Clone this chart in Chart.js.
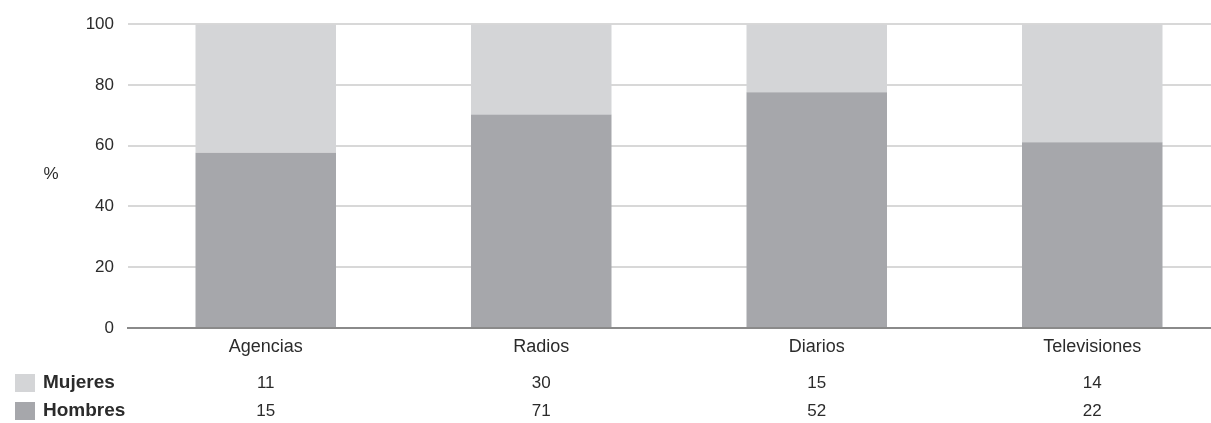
<!DOCTYPE html>
<html>
<head>
<meta charset="utf-8">
<script src="https://cdn.jsdelivr.net/npm/chart.js@4.4.1/dist/chart.umd.min.js"></script>
<style>
  html, body { margin: 0; padding: 0; background: #fff; overflow: hidden; }
  #wrap { width: 1211px; height: 423px; overflow: hidden; position: relative; }
  #box { width: 1230px; height: 423px; position: absolute; left: 0; top: 0; }
</style>
</head>
<body>
<div id="wrap"><div id="box"><canvas id="chart"></canvas></div></div>
<script>
// Data
const categories = ['Agencias', 'Radios', 'Diarios', 'Televisiones'];
const mujeres = [11, 30, 15, 14];
const hombres = [15, 71, 52, 22];
const yTicks = [0, 20, 40, 60, 80, 100];

const colorMujeres = '#d4d5d7';
const colorHombres = '#a6a7ab';
const textColor = '#2b2b2b';
const fontFamily = '"Liberation Sans", Arial, sans-serif';

// Share of each group per category (stacked to 100 %)
const totals = categories.map((c, i) => mujeres[i] + hombres[i]);
const hombresPct = hombres.map((v, i) => v / totals[i] * 100);
const mujeresPct = mujeres.map((v, i) => v / totals[i] * 100);

// Draws the "%" label and the data table below the axis
const tablePlugin = {
    id: 'tablePlugin',
    afterDraw(chart) {
        const ctx = chart.ctx;
        const x = chart.scales.x;
        const y = chart.scales.y;
        ctx.save();
        ctx.fillStyle = textColor;
        ctx.font = '17px ' + fontFamily;
        ctx.textAlign = 'center';
        ctx.textBaseline = 'middle';
        ctx.fillText('%', 51, (y.getPixelForValue(60) + y.getPixelForValue(40)) / 2 - 2);

        const rows = [
            { label: 'Mujeres', values: mujeres, color: colorMujeres, yPos: 383 },
            { label: 'Hombres', values: hombres, color: colorHombres, yPos: 411 }
        ];
        rows.forEach(row => {
            ctx.fillStyle = row.color;
            ctx.fillRect(15, row.yPos - 9, 20, 18);
            ctx.fillStyle = textColor;
            ctx.font = 'bold 19px ' + fontFamily;
            ctx.textAlign = 'left';
            ctx.fillText(row.label, 43, row.yPos);
            ctx.font = '17px ' + fontFamily;
            ctx.textAlign = 'center';
            row.values.forEach((v, i) => {
                ctx.fillText(String(v), x.getPixelForValue(i), row.yPos);
            });
        });
        ctx.restore();
    }
};

const ctx = document.getElementById('chart').getContext('2d');
new Chart(ctx, {
    type: 'bar',
    data: {
        labels: categories,
        datasets: [
            {
                label: 'Hombres',
                data: hombresPct,
                backgroundColor: colorHombres,
                borderWidth: 0,
                barPercentage: 0.51,
                categoryPercentage: 1.0
            },
            {
                label: 'Mujeres',
                data: mujeresPct,
                backgroundColor: colorMujeres,
                borderWidth: 0,
                barPercentage: 0.51,
                categoryPercentage: 1.0
            }
        ]
    },
    options: {
        responsive: true,
        maintainAspectRatio: false,
        animation: false,
        layout: { padding: { top: 20, right: 0, bottom: 0, left: 0 } },
        plugins: {
            legend: { display: false },
            tooltip: { enabled: false }
        },
        scales: {
            x: {
                stacked: true,
                grid: { display: false, drawTicks: false },
                border: { display: true, color: '#8a8a8a', width: 2 },
                ticks: {
                    color: textColor,
                    font: { family: fontFamily, size: 18 },
                    padding: 8,
                    maxRotation: 0
                },
                afterFit(scale) { scale.height = 95; }
            },
            y: {
                stacked: true,
                min: 0,
                max: 100,
                afterBuildTicks(scale) { scale.ticks = yTicks.map(v => ({ value: v })); },
                grid: { color: '#d8d8d8', lineWidth: 2, drawTicks: false },
                border: { display: false },
                ticks: {
                    color: textColor,
                    font: { family: fontFamily, size: 17 },
                    padding: 14
                },
                afterFit(scale) { scale.width = 128; }
            }
        }
    },
    plugins: [tablePlugin]
});
</script>
</body>
</html>
